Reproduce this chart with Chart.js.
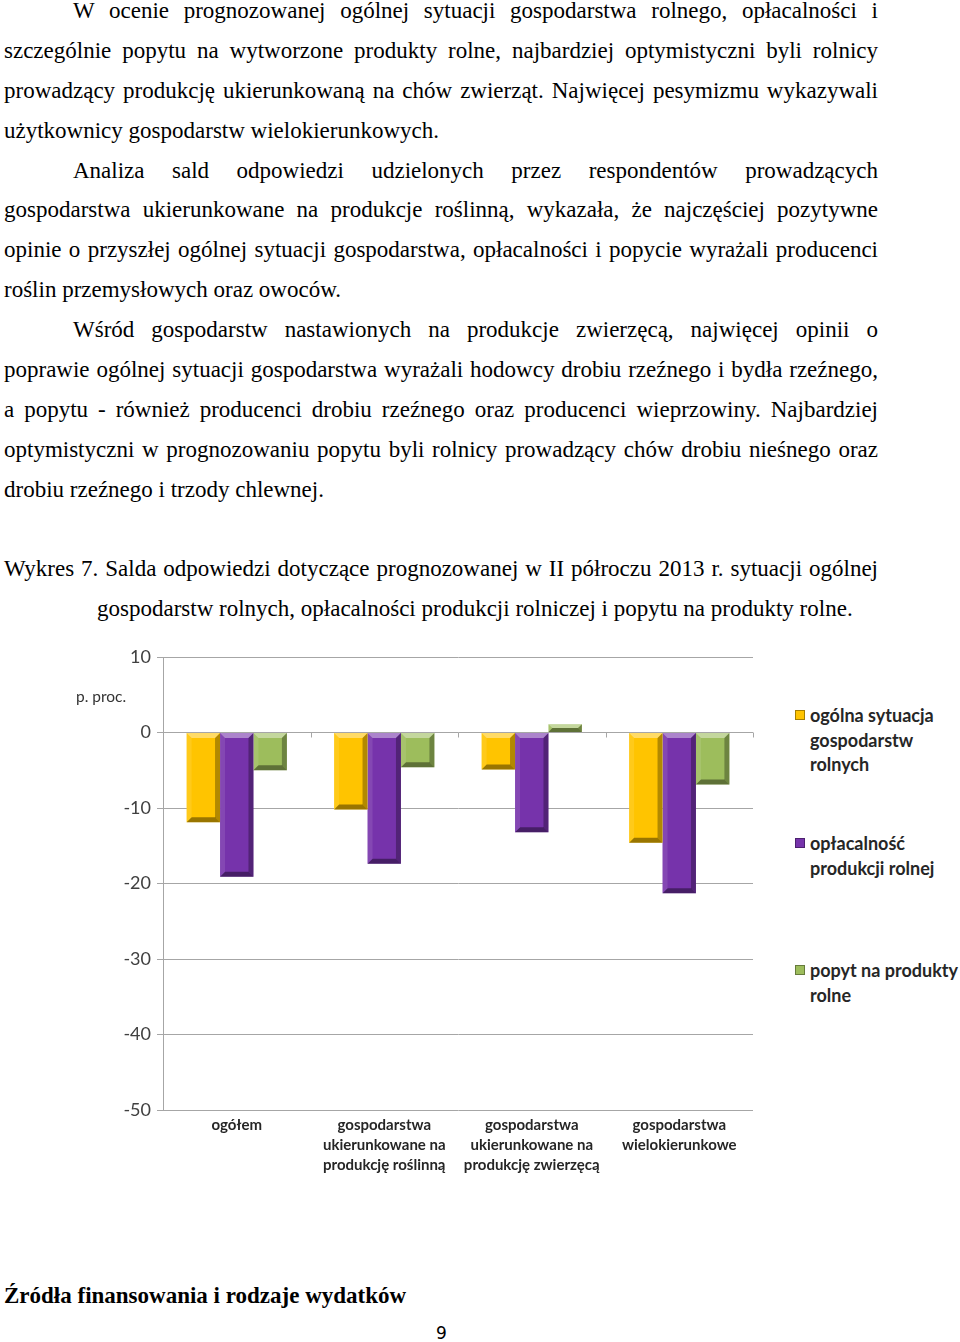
<!DOCTYPE html>
<html lang="pl">
<head>
<meta charset="utf-8">
<title>Wykres 7</title>
<script src="https://cdn.jsdelivr.net/npm/chart.js@4.4.1/dist/chart.umd.min.js"></script>
<style>
  body { margin: 0; background: #fff; }
  .page { position: relative; width: 960px; height: 1342px; overflow: hidden; }
  .text {
    position: absolute; left: 4px; top: -9px; width: 874px;
    font-family: "Liberation Serif", "Times New Roman", serif;
    font-size: 23px; line-height: 39.87px; color: #000;
  }
  .text div { white-space: nowrap; text-align: justify; text-align-last: justify; }
  .text div.last { text-align-last: left; }
  .text div.ind { padding-left: 69px; }
  .text div.hang { padding-left: 93px; }
  .chartBox { position: absolute; left: 60px; top: 640px; width: 700px; height: 545px; }
  .unit { position: absolute; left: 76px; top: 687px; font: 15.5px Lato, sans-serif; color: #333; }
  .legend { position: absolute; left: 793px; top: 0; width: 167px; font: bold 18px Lato, sans-serif; color: #262626; }
  .legend .item { position: absolute; left: 0; width: 150px; padding-left: 17px; line-height: 24.5px; }
  .legend .box { position: absolute; left: 2px; top: 7px; width: 10px; height: 10px; }
  .heading { position: absolute; left: 4px; top: 1283px; font: bold 23px "Liberation Serif", serif; }
  .pageno { position: absolute; left: 436px; top: 1323px; font: 17px "DejaVu Sans", sans-serif; }
</style>
</head>
<body>
<div class="page">
  <div class="text">
    <div class="ind">W ocenie prognozowanej ogólnej sytuacji gospodarstwa rolnego, opłacalności i</div>
    <div>szczególnie popytu na wytworzone produkty rolne, najbardziej optymistyczni byli rolnicy</div>
    <div>prowadzący produkcję ukierunkowaną na chów zwierząt. Najwięcej pesymizmu wykazywali</div>
    <div class="last">użytkownicy gospodarstw wielokierunkowych.</div>
    <div class="ind">Analiza sald odpowiedzi udzielonych przez respondentów prowadzących</div>
    <div>gospodarstwa ukierunkowane na produkcje roślinną, wykazała, że najczęściej pozytywne</div>
    <div>opinie o przyszłej ogólnej sytuacji gospodarstwa, opłacalności i popycie wyrażali producenci</div>
    <div class="last">roślin przemysłowych oraz owoców.</div>
    <div class="ind">Wśród gospodarstw nastawionych na produkcje zwierzęcą, najwięcej opinii o</div>
    <div>poprawie ogólnej sytuacji gospodarstwa wyrażali hodowcy drobiu rzeźnego i bydła rzeźnego,</div>
    <div>a popytu - również producenci drobiu rzeźnego oraz producenci wieprzowiny. Najbardziej</div>
    <div>optymistyczni w prognozowaniu popytu byli rolnicy prowadzący chów drobiu nieśnego oraz</div>
    <div class="last">drobiu rzeźnego i trzody chlewnej.</div>
    <div class="last">&nbsp;</div>
    <div>Wykres 7. Salda odpowiedzi dotyczące prognozowanej w II półroczu 2013 r. sytuacji ogólnej</div>
    <div class="last hang">gospodarstw rolnych, opłacalności produkcji rolniczej i popytu na produkty rolne.</div>
  </div>

  <div class="chartBox"><canvas id="salda" width="700" height="545"></canvas></div>
  <div class="unit">p. proc.</div>
  <div class="legend" id="legend"></div>

  <div class="heading">Źródła finansowania i rodzaje wydatków</div>
  <div class="pageno">9</div>
</div>

<script>
// kategorie (etykiety osi X, w wierszach)
const categories = [
  ["ogółem"],
  ["gospodarstwa", "ukierunkowane na", "produkcję roślinną"],
  ["gospodarstwa", "ukierunkowane na", "produkcję zwierzęcą"],
  ["gospodarstwa", "wielokierunkowe"]
];
const seriesNames = ["ogólna sytuacja gospodarstw rolnych", "opłacalność produkcji rolnej", "popyt na produkty rolne"];
// salda w p. proc.
const ogolnaSytuacja = [-11.9, -10.2, -4.9, -14.6];
const oplacalnosc = [-19.1, -17.4, -13.2, -21.3];
const popyt = [-5.0, -4.6, 1.1, -6.9];
const yTicks = [10, 0, -10, -20, -30, -40, -50];

const colors = ["#FFC400", "#7633AB", "#9DBD5C"];

// prosty efekt "bevel" jak w Excelu + znaczniki kategorii na linii zera
const bevel = {
  id: "bevel",
  beforeDatasetsDraw(chart) {
    const ctx = chart.ctx, xs = chart.scales.x, ys = chart.scales.y;
    const y0 = ys.getPixelForValue(0);
    const step = (xs.right - xs.left) / categories.length;
    ctx.save();
    ctx.strokeStyle = "#A6A6A6";
    ctx.lineWidth = 1;
    for (let i = 1; i <= categories.length; i++) {
      const x = Math.round(xs.left + step * i) + 0.5;
      ctx.beginPath();
      ctx.moveTo(x, y0);
      ctx.lineTo(x, y0 + 5);
      ctx.stroke();
    }
    ctx.restore();
  },
  afterDatasetsDraw(chart) {
    const ctx = chart.ctx;
    chart.data.datasets.forEach((ds, i) => {
      chart.getDatasetMeta(i).data.forEach(el => {
        const p = el.getProps(["x", "y", "base", "width"], true);
        const l = p.x - p.width / 2, r = p.x + p.width / 2;
        const t = Math.min(p.y, p.base), b = Math.max(p.y, p.base);
        const d = Math.min(5, (b - t) / 2, p.width / 2);
        const poly = (pts, c) => {
          ctx.beginPath();
          ctx.moveTo(pts[0][0], pts[0][1]);
          pts.slice(1).forEach(q => ctx.lineTo(q[0], q[1]));
          ctx.closePath();
          ctx.fillStyle = c;
          ctx.fill();
        };
        ctx.save();
        poly([[l, t], [r, t], [r - d, t + d], [l + d, t + d]], "rgba(255,255,255,0.4)");
        poly([[l, b], [r, b], [r - d, b - d], [l + d, b - d]], "rgba(0,0,0,0.4)");
        poly([[l, t], [l + d, t + d], [l + d, b - d], [l, b]], "rgba(255,255,255,0.1)");
        poly([[r, t], [r - d, t + d], [r - d, b - d], [r, b]], "rgba(0,0,0,0.3)");
        ctx.restore();
      });
    });
  }
};

const chart = new Chart(document.getElementById("salda"), {
  type: "bar",
  data: {
    labels: categories,
    datasets: [
      { label: seriesNames[0], data: ogolnaSytuacja },
      { label: seriesNames[1], data: oplacalnosc },
      { label: seriesNames[2], data: popyt }
    ].map((d, i) => Object.assign(d, {
      backgroundColor: colors[i],
      borderWidth: 0,
      categoryPercentage: 0.68,
      barPercentage: 1
    }))
  },
  options: {
    responsive: false,
    animation: false,
    devicePixelRatio: 1,
    layout: { padding: { top: 17, right: 7, left: 0, bottom: 0 } },
    plugins: { legend: { display: false }, tooltip: { enabled: false } },
    scales: {
      x: {
        grid: { display: false },
        border: { display: false },
        ticks: {
          font: { family: "Lato", size: 15, weight: "bold", lineHeight: 1.33 },
          color: "#262626",
          padding: -3,
          maxRotation: 0,
          autoSkip: false
        },
        afterFit: s => { s.height = 75; }
      },
      y: {
        min: -50,
        max: 10,
        afterBuildTicks: s => { s.ticks = yTicks.map(v => ({ value: v })); },
        grid: { color: "#A6A6A6", lineWidth: 1, tickLength: 6, tickColor: "#A6A6A6" },
        border: { display: true, color: "#A6A6A6" },
        ticks: {
          font: { family: "Lato", size: 18 },
          color: "#404040",
          padding: 6
        },
        afterFit: s => { s.width = 103; }
      }
    }
  },
  plugins: [bevel]
});

// legenda HTML z danych wykresu
const legendTops = [703, 831, 958];
const legend = document.getElementById("legend");
chart.data.datasets.forEach((ds, i) => {
  const item = document.createElement("div");
  item.className = "item";
  item.style.top = legendTops[i] + "px";
  item.innerHTML = '<span class="box" style="background:' + ds.backgroundColor +
    ';border:1px solid rgba(0,0,0,0.35);box-sizing:border-box"></span>' + ds.label;
  legend.appendChild(item);
});
</script>
</body>
</html>
